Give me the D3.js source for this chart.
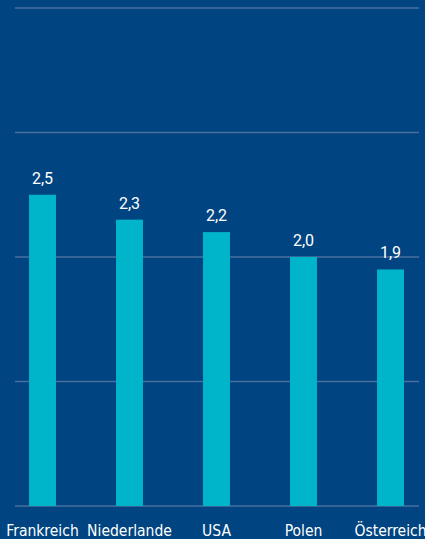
<!DOCTYPE html>
<meta charset="utf-8">
<style>
  body { margin: 0; background: #004481; }
  svg { display: block; }
  .grid line { stroke: #4a6f9f; stroke-width: 1.5px; }
  .value { fill: #fff; font-family: Roboto, sans-serif; font-size: 16px; }
  .cat { fill: #fff; font-family: "DejaVu Sans Condensed", "DejaVu Sans", sans-serif; font-size: 15.5px; }
</style>
<body>
<svg></svg>
<script src="https://cdn.jsdelivr.net/npm/d3@7"></script>
<script>

var countries = ["Frankreich", "Niederlande", "USA", "Polen", "Österreich"];
var values = [2.5, 2.3, 2.2, 2.0, 1.9];
var labels = ["2,5", "2,3", "2,2", "2,0", "1,9"];
var gridTicks = [0, 1, 2, 3, 4];

var width = 425, height = 539;

var svg = d3.select("svg")
    .attr("width", width)
    .attr("height", height);

svg.append("rect")
    .attr("width", width)
    .attr("height", height)
    .attr("fill", "#004481");

var x = d3.scaleBand()
    .domain(countries)
    .range([-1, 434])
    .paddingInner(0.69)
    .paddingOuter(0.345);

var y = d3.scaleLinear()
    .domain([0, 4])
    .range([506, 8]);

// gridlines
svg.append("g")
    .attr("class", "grid")
  .selectAll("line")
  .data(gridTicks)
  .enter().append("line")
    .attr("x1", 15)
    .attr("x2", 419)
    .attr("y1", function(d) { return y(d); })
    .attr("y2", function(d) { return y(d); });

// bars
svg.append("g")
  .selectAll("rect")
  .data(values)
  .enter().append("rect")
    .attr("x", function(d, i) { return x(countries[i]); })
    .attr("width", x.bandwidth())
    .attr("y", function(d) { return y(d); })
    .attr("height", function(d) { return y(0) - y(d); })
    .attr("fill", "#00b4ca");

// value labels
svg.append("g")
  .selectAll("text")
  .data(values)
  .enter().append("text")
    .attr("class", "value")
    .attr("text-anchor", "middle")
    .attr("x", function(d, i) { return x(countries[i]) + x.bandwidth() / 2; })
    .attr("y", function(d) { return y(d) - 11; })
    .text(function(d, i) { return labels[i]; });

// category labels
svg.append("g")
  .selectAll("text")
  .data(countries)
  .enter().append("text")
    .attr("class", "cat")
    .attr("text-anchor", "middle")
    .attr("x", function(d) { return x(d) + x.bandwidth() / 2; })
    .attr("y", 536)
    .text(function(d) { return d; });

</script>
</body>
